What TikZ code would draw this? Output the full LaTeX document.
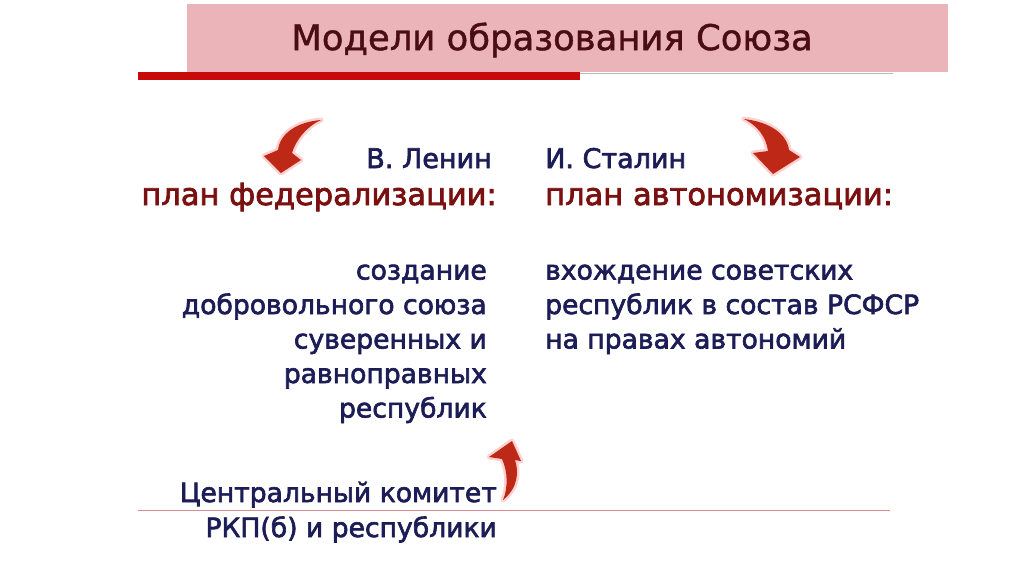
\documentclass[tikz,border=0pt]{standalone}
\usepackage{fontspec}
\setmainfont{DejaVu Sans}
\newfontfamily\semibold{DejaVu Sans}[FakeBold=2.4]
\newfontfamily\titlefont{DejaVu Sans}[FakeBold=1.2]
\usetikzlibrary{positioning}
\definecolor{titlepink}{RGB}{234,180,184}
\definecolor{barred}{RGB}{200,10,10}
\definecolor{navytext}{RGB}{28,28,86}
\definecolor{plantext}{RGB}{122,16,16}
\definecolor{titletext}{RGB}{74,14,18}
\definecolor{arrowred}{RGB}{190,40,22}
\definecolor{linerose}{RGB}{214,140,140}

\begin{document}
\begin{tikzpicture}[x=1pt, y=-1pt,
  heading/.style={font=\titlefont\fontsize{35.4}{40}\selectfont, text=titletext, inner sep=0pt},
  author/.style={font=\semibold\fontsize{27}{34}\selectfont, text=navytext, inner sep=0pt},
  plan/.style={font=\semibold\fontsize{30.5}{34}\selectfont, text=plantext, inner sep=0pt},
  body/.style={font=\semibold\fontsize{26.6}{34}\selectfont, text=navytext, inner sep=0pt},
  bendarrow/.style={fill=arrowred, preaction={draw=red!18, line width=5pt, line join=round}}
]
  \useasboundingbox (0,0) rectangle (1024,574);

  % Title band
  \fill[titlepink] (187,4) rectangle (948,72);
  \draw[gray!55, line width=1.5pt] (580,73.5) -- (893,73.5);
  \fill[barred] (138,72) rectangle (580,80);
  \node[heading] (title) at (552,40) {Модели образования Союза};

  % Lenin side
  \node[author, anchor=base east] (lenin) at (492,168) {В. Ленин};
  \node[plan, anchor=base east] (fedplan) at (497,205) {план федерализации:};
  \foreach \txt [count=\i] in {создание, добровольного союза, суверенных и, равноправных, республик}
    \node[body, anchor=base east] (fed\i) at (487, 245+34.5*\i) {\txt};

  % Stalin side
  \node[author, anchor=base west] (stalin) at (545,168) {И. Сталин};
  \node[plan, anchor=base west] (autoplan) at (545,205) {план автономизации:};
  \foreach \txt [count=\i] in {вхождение советских, республик в состав РСФСР, на правах автономий}
    \node[body, anchor=base west] (auto\i) at (545, 245+34.5*\i) {\txt};

  % Bottom
  \draw[linerose, line width=1pt] (138,510) -- (890,510);
  \node[body, anchor=base east] (ck) at (497,502) {Центральный комитет};
  \node[body, anchor=base east] (rkp) at (497,537) {РКП(б) и республики};

  % Curved arrows
  \fill[bendarrow] (321,120) .. controls (296,122) and (280,134) .. (278,150)
    -- (264,156) -- (281,173) -- (301,160) -- (292,153)
    .. controls (296,140) and (306,127) .. (321,120) -- cycle;
  \fill[bendarrow] (744,119) .. controls (770,122) and (787,134) .. (789,150)
    -- (800,157) -- (773,174) -- (753,153) -- (768,151)
    .. controls (766,137) and (758,126) .. (744,119) -- cycle;
  \fill[bendarrow] (503,500) .. controls (518,488) and (519,472) .. (515,460)
    -- (521,461) -- (512,441) -- (489,457) -- (502,459)
    .. controls (508,472) and (508,488) .. (503,500) -- cycle;
\end{tikzpicture}
\end{document}
